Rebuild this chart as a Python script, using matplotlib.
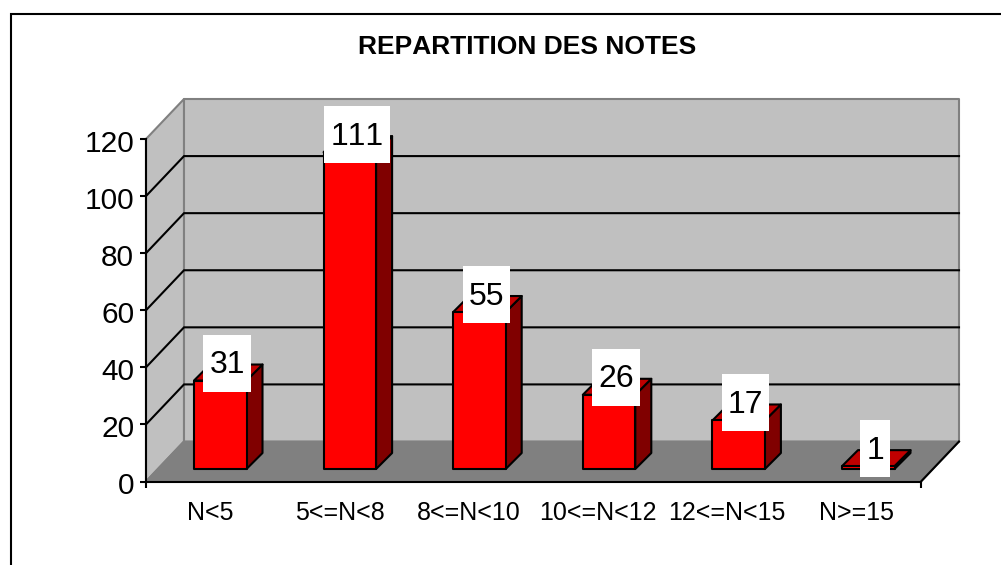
import matplotlib
matplotlib.use("Agg")
import matplotlib.pyplot as plt
from matplotlib.patches import Polygon, Rectangle
from matplotlib.lines import Line2D
from matplotlib.transforms import IdentityTransform, ScaledTranslation

plt.rcParams['font.family'] = ['Liberation Sans', 'DejaVu Sans']
plt.rcParams['text.kerning_factor'] = 6  # the "111" label is not kerned in the original

## Data
categories = ['N<5', '5<=N<8', '8<=N<10', '10<=N<12', '12<=N<15', 'N>=15']
values = [31, 111, 55, 26, 17, 1]
y_ticks = [0, 20, 40, 60, 80, 100, 120]

W, H = 1001, 565
fig = plt.figure(figsize=(W / 100, H / 100), dpi=100, facecolor='white')

# front plane of the fake 3D box, in pixels
left, right, bottom, top = 146, 921, 481.5, 139
ax = fig.add_axes([left / W, 1 - bottom / H, (right - left) / W, (bottom - top) / H])
ax.set_xlim(0, len(categories))
ax.set_ylim(0, 120)
ax.patch.set_visible(False)

px_x = (right - left) / len(categories)  # pixels per category
px_y = (bottom - top) / 120  # pixels per value unit
wall_dx, wall_dy = 38 / px_x, 40 / px_y
bar_dx, bar_dy = 16 / px_x, 16 / px_y
base_dy = 12.5 / px_y
bar_start, bar_w = 48 / px_x, 52.5 / px_x
bar_pitch = 129.6 / px_x  # bars sit a bit wider apart than the categories
n = len(categories)


def poly(pts, color, edge, lw=1.5, z=1):
    ax.add_patch(Polygon(pts, closed=True, facecolor=color, edgecolor=edge, linewidth=lw,
                         zorder=z, clip_on=False, joinstyle='round'))


## Walls and floor
poly([(0, 0), (wall_dx, wall_dy), (wall_dx, 120 + wall_dy), (0, 120)], '#c0c0c0', '#808080')
poly([(wall_dx, wall_dy), (n + wall_dx, wall_dy), (n + wall_dx, 120 + wall_dy), (wall_dx, 120 + wall_dy)],
     '#c0c0c0', '#808080')
poly([(0, 0), (n, 0), (n + wall_dx, wall_dy), (wall_dx, wall_dy)], '#808080', '#808080')

## Gridlines
for v in y_ticks[1:-1]:
    ax.plot([0, wall_dx, n + wall_dx], [v, v + wall_dy, v + wall_dy], color='black', lw=1.5,
            zorder=1.5, clip_on=False, solid_joinstyle='miter')
ax.plot([n, n + wall_dx], [0, wall_dy], color='black', lw=1.5, zorder=1.5, clip_on=False)

## Bars
labels = []
for i, v in enumerate(values):
    x0 = i * bar_pitch + bar_start
    x1 = x0 + bar_w
    y0 = base_dy
    y1 = base_dy + v
    poly([(x1, y0), (x1 + bar_dx, y0 + bar_dy), (x1 + bar_dx, y1 + bar_dy), (x1, y1)], '#800000', 'black', z=3)
    poly([(x0, y1), (x1, y1), (x1 + bar_dx, y1 + bar_dy), (x0 + bar_dx, y1 + bar_dy)], '#c00000', 'black', z=3)
    poly([(x0, y0), (x1, y0), (x1, y1), (x0, y1)], '#ff0000', 'black', z=3)
    t = ax.text(x0 + bar_w / 2 + 7 / px_x, y1 + 15.5 / px_y, str(v), fontsize=23, ha='center', va='center',
                color='black', zorder=6, clip_on=False)
    labels.append((t, x0 + bar_w / 2 + 7 / px_x, y1 + 17.5 / px_y, len(str(v))))

## Axes lines, ticks
for s in ['top', 'right']:
    ax.spines[s].set_visible(False)
for s in ['left', 'bottom']:
    ax.spines[s].set_linewidth(1.5)
    ax.spines[s].set_zorder(2)
ax.set_yticks(y_ticks)
ax.tick_params(axis='y', labelsize=21.5, length=4.5, width=1.5, pad=4)
for lab in ax.get_yticklabels():
    lab.set_transform(lab.get_transform() + ScaledTranslation(0, -1.5 / 100, fig.dpi_scale_trans))
ax.set_xticks([0, n])
ax.set_xticklabels(['', ''])
ax.set_xticks([i + 0.5 for i in range(n)], minor=True)
ax.set_xticklabels(categories, minor=True)
ax.tick_params(axis='x', which='major', length=4.5, width=1.5)
ax.tick_params(axis='x', which='minor', length=0, labelsize=18, pad=14)

fig.text(527 / W, 1 - 47 / H, 'REPARTITION DES NOTES', fontsize=19, fontweight='bold',
         ha='center', va='center')

# chart frame, only top and left are inside the picture
fig.add_artist(Line2D([10.5 / W, 10.5 / W, 1], [0, 1 - 13.5 / H, 1 - 13.5 / H], color='black', lw=1.5,
                      solid_joinstyle='miter'))

## White boxes behind the value labels
fig.canvas.draw()
for t, bx, by, nd in labels:
    cx, cy = ax.transData.transform((bx, by))
    w = nd * 17.8 + 12
    ax.add_patch(Rectangle((cx - w / 2, cy - 28.5), w, 57, transform=IdentityTransform(),
                           facecolor='white', edgecolor='none', zorder=5, clip_on=False))

fig.savefig('out.png', dpi=100)
